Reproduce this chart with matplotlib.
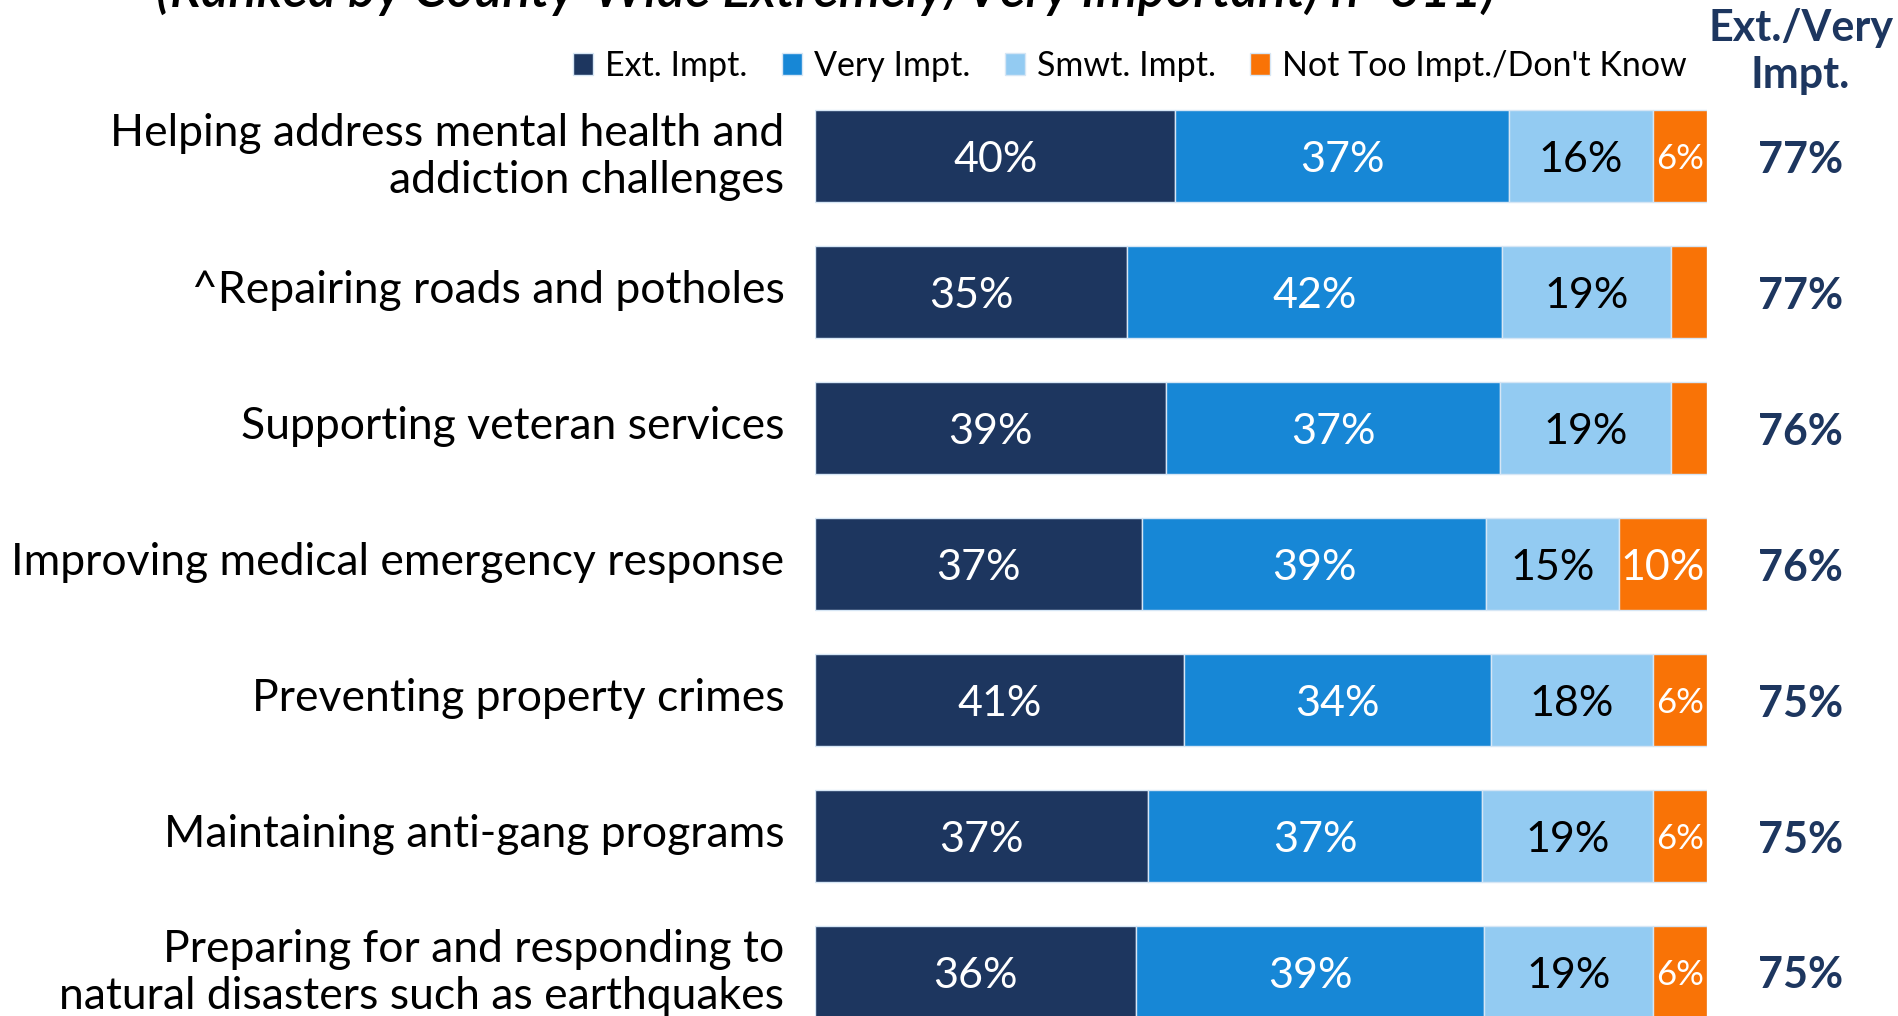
import numpy as np
import matplotlib
matplotlib.use("Agg")
import matplotlib.pyplot as plt
from matplotlib.transforms import ScaledTranslation

plt.rcParams['font.family'] = ['Lato', 'DejaVu Sans']

# data, top row first
categories = [
    "Helping address mental health and\naddiction challenges",
    "^Repairing roads and potholes",
    "Supporting veteran services",
    "Improving medical emergency response",
    "Preventing property crimes",
    "Maintaining anti-gang programs",
    "Preparing for and responding to\nnatural disasters such as earthquakes",
]
ext_impt = [40, 35, 39, 37, 41, 37, 36]
very_impt = [37, 42, 37, 39, 34, 37, 39]
smwt_impt = [16, 19, 19, 15, 18, 19, 19]
not_too = [6, 4, 4, 10, 6, 6, 6]
show_not_too = [True, False, False, True, True, True, True]
ext_very = [77, 77, 76, 76, 75, 75, 75]

series_names = ["Ext. Impt.", "Very Impt.", "Smwt. Impt.", "Not Too Impt./Don't Know"]
colors = ["#1d365f", "#1787d6", "#93cbf2", "#f97306"]
label_colors = ["white", "white", "black", "white"]
navy = "#1d365f"

title = "(Ranked by County-Wide Extremely/Very Important) n=811)"

W, H = 1899, 1016
fig = plt.figure(figsize=(W / 100, H / 100), dpi=100)
bar_left, bar_right = 815, 1707
ax = fig.add_axes([bar_left / W, 0, (bar_right - bar_left) / W, 1])

row_top, row_gap = 156, 136
y = np.arange(len(categories))
ax.set_xlim(0, 100)
ax.set_ylim((H - row_top) / row_gap, -row_top / row_gap)

data = np.array([ext_impt, very_impt, smwt_impt, not_too], dtype=float)
shares = data / data.sum(axis=0) * 100

left = np.zeros(len(categories))
handles = []
for k in range(4):
    b = ax.barh(y, shares[k], left=left, height=0.68, color=colors[k],
                edgecolor="#d6e6f5", linewidth=1)
    handles.append(b)
    for i in range(len(categories)):
        cx = left[i] + shares[k][i] / 2
        if k == 3:
            if not show_not_too[i]:
                continue
            fs = 31 if data[k][i] >= 10 else 25
        else:
            fs = 31
        ax.text(cx, y[i], f"{int(data[k][i])}%", ha="center", va="center_baseline",
                color=label_colors[k], fontsize=fs)
    left += shares[k]

ax.set_yticks(y)
ax.set_yticklabels(categories, fontsize=32, linespacing=1.18)
ax.tick_params(axis="y", length=0, pad=22)
# nudge category labels up a little
shift = ScaledTranslation(0, 6 / 100, fig.dpi_scale_trans)
for lab in ax.get_yticklabels():
    lab.set_transform(lab.get_transform() + shift)
ax.set_xticks([])
for s in ax.spines.values():
    s.set_visible(False)

# right column
col_x = 110.5
for i, v in enumerate(ext_very):
    ax.text(col_x, y[i], f"{v}%", ha="center", va="center_baseline", color=navy,
            fontsize=31, fontweight="bold", clip_on=False)
ax.text(col_x, -0.77, "Ext./Very\nImpt.", ha="center", va="center", color=navy,
        fontsize=31, fontweight="bold", linespacing=1.2, clip_on=False)

ax.legend(handles, series_names, ncol=4, loc="center",
          bbox_to_anchor=(1130 / W, 1 - 66 / H), bbox_transform=fig.transFigure,
          frameon=False, fontsize=24.5, handlelength=0.6, handleheight=0.6,
          handletextpad=0.35, columnspacing=1.0, borderaxespad=0)

fig.text(826 / W, 1 - 7 / H, title, ha="center", va="baseline", fontsize=38,
         fontstyle="italic", fontweight="semibold")

fig.savefig("out.png", dpi=100)
